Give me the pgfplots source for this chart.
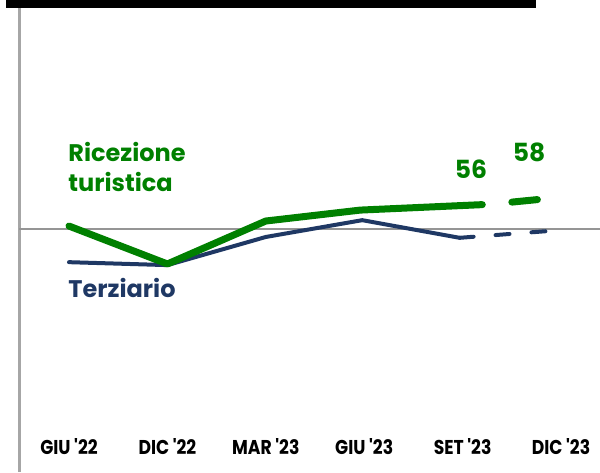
\documentclass[border=0pt]{standalone}
\usepackage{pgfplots}
\pgfplotsset{compat=1.18}
\usepackage{fontspec}
\setmainfont{Poppins}
\definecolor{tgreen}{RGB}{0,128,0}
\definecolor{tnavy}{RGB}{31,56,100}
\definecolor{lgray}{RGB}{166,166,166}
\newcommand{\tl}[1]{\scalebox{0.86}[1]{#1}}
\begin{document}
\begin{tikzpicture}
\useasboundingbox (-9.5pt,0pt) rectangle (290.5pt,236pt);
\begin{axis}[
 at={(0pt,0pt)}, anchor=south west,
 scale only axis, width=290.5pt, height=236pt,
 xmin=-0.508, xmax=5.396, ymin=-7.857, ymax=104.52,
 axis x line=bottom, axis y line=left,
 x axis line style={draw=none},
 y axis line style={-, draw=lgray, line width=1.5pt},
 ytick=\empty, xtick={0,...,5},
 xticklabels={\tl{GIU \textquotesingle22}, \tl{DIC \textquotesingle22}, \tl{MAR \textquotesingle23}, \tl{GIU \textquotesingle23}, \tl{SET \textquotesingle23}, \tl{DIC \textquotesingle23}},
 major tick length=0pt,
 xticklabel style={anchor=center, yshift=12.5pt, font=\bfseries\fontsize{10}{11}\selectfont},
 clip=false,
]
\addplot[lgray!90!black, line width=1pt] coordinates {(-0.508,50) (5.396,50)};
\addplot[tnavy, line width=2pt, line join=round, line cap=round] coordinates {(0,42.1) (1,41.4) (2,48.1) (2.98,52.1) (3.97,47.9)};
\addplot[tnavy, line width=2pt, line cap=round, dash pattern=on 7pt off 11pt] coordinates {(3.97,47.9) (4.86,49.5)};
\addplot[tgreen, line width=3.5pt, line join=round, line cap=round] coordinates {(0,50.7) (1,41.67) (2,51.9) (2.96,54.5) (4.20,55.8)};
\addplot[tgreen, line width=3.5pt, line cap=round] coordinates {(4.50,56.4) (4.76,57.0)};
\node[anchor=base west, text=tgreen, font=\bfseries\fontsize{12}{13}\selectfont, inner sep=0pt] at (axis cs:-0.01,65.95) {Ricezione};
\node[anchor=base west, text=tgreen, font=\bfseries\fontsize{12}{13}\selectfont, inner sep=0pt] at (axis cs:-0.01,59.0) {turistica};
\node[anchor=base west, text=tnavy, font=\bfseries\fontsize{12}{13}\selectfont, inner sep=0pt] at (axis cs:-0.01,33.8) {Terziario};
\node[anchor=base, text=tgreen, font=\bfseries\fontsize{12.5}{13}\selectfont, inner sep=0pt] at (axis cs:4.085,62.1) {56};
\node[anchor=base, text=tgreen, font=\bfseries\fontsize{12.5}{13}\selectfont, inner sep=0pt] at (axis cs:4.675,66.0) {58};
\end{axis}
\fill[black] (-6.5pt,232pt) rectangle (258.5pt,236pt);
\end{tikzpicture}
\end{document}
